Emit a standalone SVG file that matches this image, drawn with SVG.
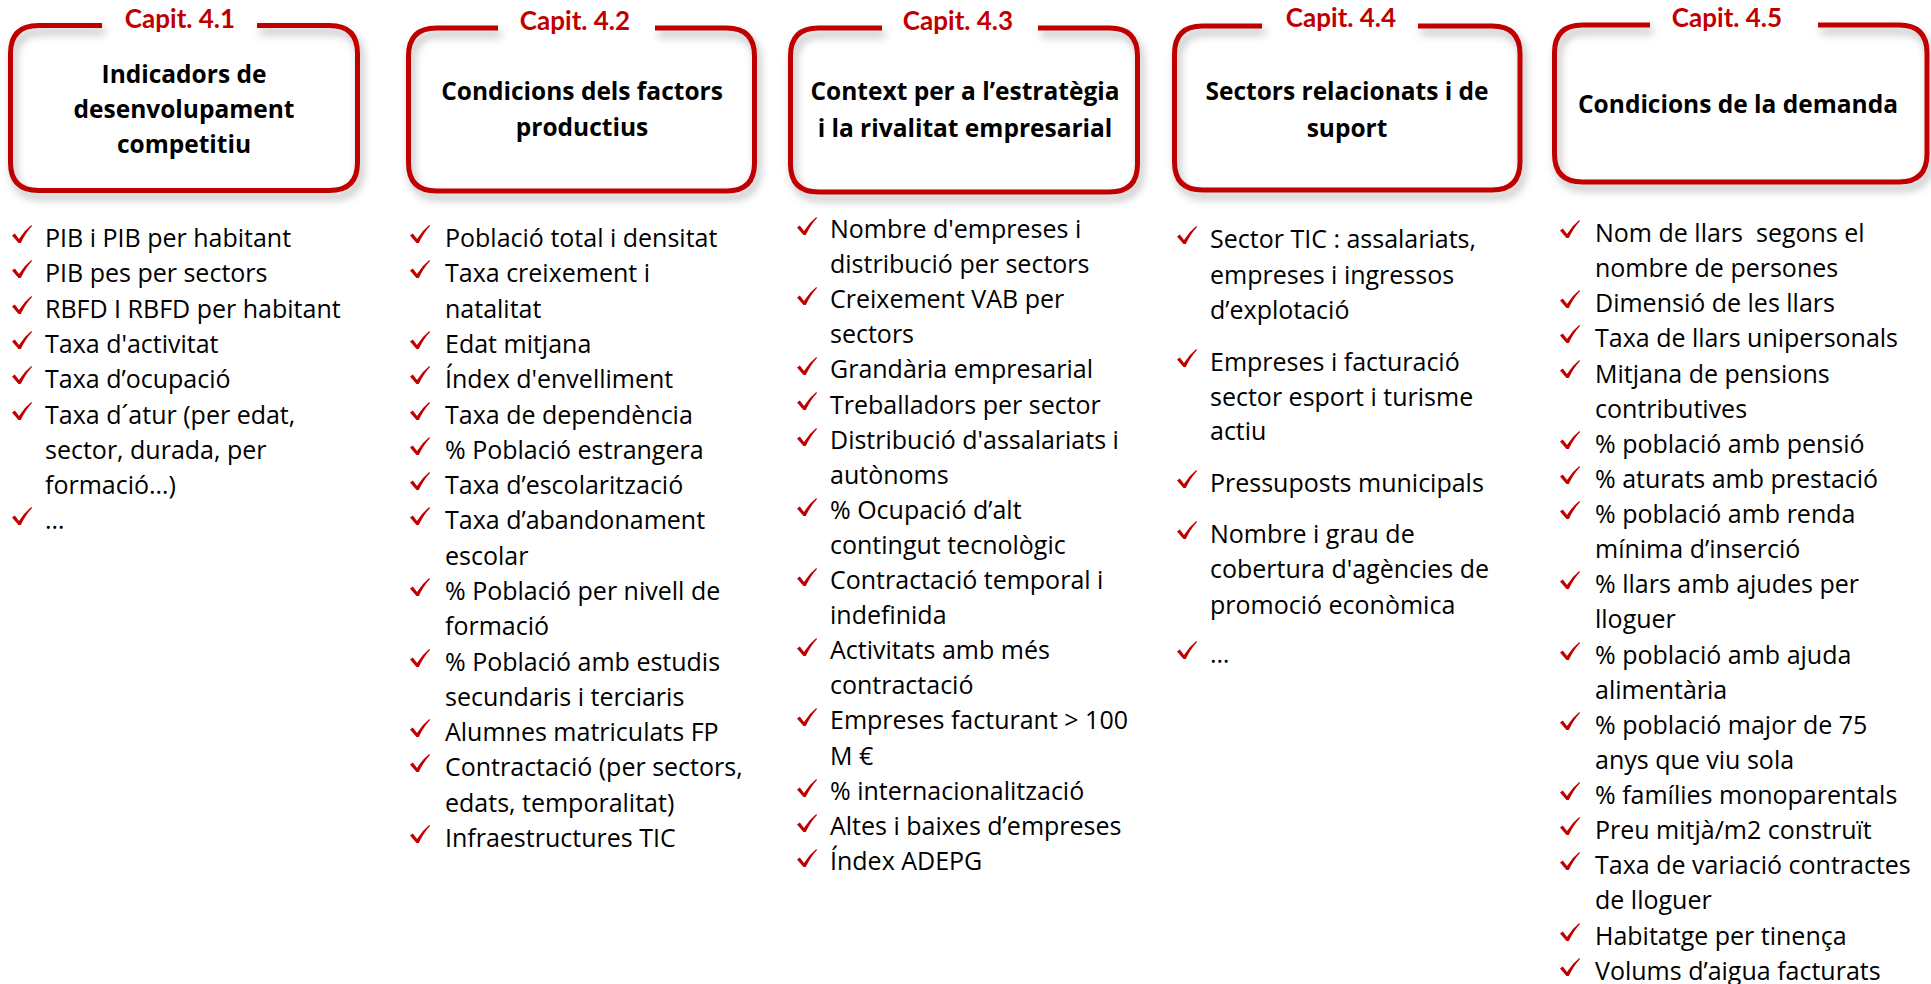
<svg xmlns="http://www.w3.org/2000/svg" xmlns:xlink="http://www.w3.org/1999/xlink" width="1931" height="984" viewBox="0 0 1931 984">
<defs>
<filter id="sh" x="-10%" y="-10%" width="130%" height="140%">
<feDropShadow dx="3" dy="6" stdDeviation="4" flood-color="#000" flood-opacity="0.3"/>
</filter>
<path id="ck" d="M0,10.5 L2.8,8.6 L7,14 Q12,5.8 19.3,0 L20,1 Q13.5,8 8.8,18 L6.5,18 Z" fill="#C00000"/>
</defs>
<style>
.box{fill:none;stroke:#C00000;stroke-width:5;stroke-linejoin:round}
.cap{font-family:Lato,"Open Sans","Liberation Sans",sans-serif;font-weight:bold;font-size:26px;fill:#C00000;text-anchor:middle}
.ttl{font-family:"Open Sans",Lato,"Liberation Sans",sans-serif;font-weight:bold;font-size:24.5px;fill:#000;text-anchor:middle}
.li{font-family:"Open Sans",Lato,"Liberation Sans",sans-serif;font-size:25px;fill:#000}
</style>
<rect width="1931" height="984" fill="#fff"/>

<g id="cap41">
<path class="box" filter="url(#sh)" d="M257,25.5 H329.5 Q357.5,25.5 357.5,53.5 V162.5 Q357.5,190.5 329.5,190.5 H38.5 Q10.5,190.5 10.5,162.5 V53.5 Q10.5,25.5 38.5,25.5 H102"/>
<text class="cap" x="180" y="28">Capit. 4.1</text>
<text class="ttl" x="184" y="83">Indicadors de<tspan x="184" dy="35">desenvolupament</tspan><tspan x="184" dy="35">competitiu</tspan></text>
<g>
<use href="#ck" x="12" y="225"/><use href="#ck" x="12" y="260"/><use href="#ck" x="12" y="296"/><use href="#ck" x="12" y="331"/><use href="#ck" x="12" y="366"/><use href="#ck" x="12" y="402"/><use href="#ck" x="12" y="507"/>
</g>
<text class="li" x="45" y="247">PIB i PIB per habitant<tspan x="45" dy="35.3">PIB pes per sectors</tspan><tspan x="45" dy="35.3">RBFD I RBFD per habitant</tspan><tspan x="45" dy="35.3">Taxa d'activitat</tspan><tspan x="45" dy="35.3">Taxa d’ocupació</tspan><tspan x="45" dy="35.3">Taxa d´atur (per edat,</tspan><tspan x="45" dy="35.3">sector, durada, per</tspan><tspan x="45" dy="35.3">formació…)</tspan><tspan x="45" dy="35.3">…</tspan></text>
</g>

<g id="cap42">
<path class="box" filter="url(#sh)" d="M655,28 H726.5 Q754.5,28 754.5,56 V163 Q754.5,191 726.5,191 H436.5 Q408.5,191 408.5,163 V56 Q408.5,28 436.5,28 H498"/>
<text class="cap" x="575" y="30">Capit. 4.2</text>
<text class="ttl" x="582" y="100">Condicions dels factors<tspan x="582" dy="36">productius</tspan></text>
<g>
<use href="#ck" x="410" y="225"/><use href="#ck" x="410" y="260"/><use href="#ck" x="410" y="331"/><use href="#ck" x="410" y="366"/><use href="#ck" x="410" y="402"/><use href="#ck" x="410" y="437"/><use href="#ck" x="410" y="472"/><use href="#ck" x="410" y="507"/><use href="#ck" x="410" y="578"/><use href="#ck" x="410" y="649"/><use href="#ck" x="410" y="719"/><use href="#ck" x="410" y="754"/><use href="#ck" x="410" y="825"/>
</g>
<text class="li" x="445" y="247">Població total i densitat<tspan x="445" dy="35.3">Taxa creixement i</tspan><tspan x="445" dy="35.3">natalitat</tspan><tspan x="445" dy="35.3">Edat mitjana</tspan><tspan x="445" dy="35.3">Índex d'envelliment</tspan><tspan x="445" dy="35.3">Taxa de dependència</tspan><tspan x="445" dy="35.3">% Població estrangera</tspan><tspan x="445" dy="35.3">Taxa d’escolarització</tspan><tspan x="445" dy="35.3">Taxa d’abandonament</tspan><tspan x="445" dy="35.3">escolar</tspan><tspan x="445" dy="35.3">% Població per nivell de</tspan><tspan x="445" dy="35.3">formació</tspan><tspan x="445" dy="35.3">% Població amb estudis</tspan><tspan x="445" dy="35.3">secundaris i terciaris</tspan><tspan x="445" dy="35.3">Alumnes matriculats FP</tspan><tspan x="445" dy="35.3">Contractació (per sectors,</tspan><tspan x="445" dy="35.3">edats, temporalitat)</tspan><tspan x="445" dy="35.3">Infraestructures TIC</tspan></text>
</g>

<g id="cap43">
<path class="box" filter="url(#sh)" d="M1038,28 H1109.5 Q1137.5,28 1137.5,56 V164 Q1137.5,192 1109.5,192 H818.5 Q790.5,192 790.5,164 V56 Q790.5,28 818.5,28 H882"/>
<text class="cap" x="958" y="30">Capit. 4.3</text>
<text class="ttl" x="965" y="100">Context per a l’estratègia<tspan x="965" dy="37">i la rivalitat empresarial</tspan></text>
<g>
<use href="#ck" x="797" y="217"/><use href="#ck" x="797" y="287"/><use href="#ck" x="797" y="357"/><use href="#ck" x="797" y="392"/><use href="#ck" x="797" y="428"/><use href="#ck" x="797" y="498"/><use href="#ck" x="797" y="568"/><use href="#ck" x="797" y="638"/><use href="#ck" x="797" y="708"/><use href="#ck" x="797" y="779"/><use href="#ck" x="797" y="814"/><use href="#ck" x="797" y="849"/>
</g>
<text class="li" x="830" y="238">Nombre d'empreses i<tspan x="830" dy="35.1">distribució per sectors</tspan><tspan x="830" dy="35.1">Creixement VAB per</tspan><tspan x="830" dy="35.1">sectors</tspan><tspan x="830" dy="35.1">Grandària empresarial</tspan><tspan x="830" dy="35.1">Treballadors per sector</tspan><tspan x="830" dy="35.1">Distribució d'assalariats i</tspan><tspan x="830" dy="35.1">autònoms</tspan><tspan x="830" dy="35.1">% Ocupació d’alt</tspan><tspan x="830" dy="35.1">contingut tecnològic</tspan><tspan x="830" dy="35.1">Contractació temporal i</tspan><tspan x="830" dy="35.1">indefinida</tspan><tspan x="830" dy="35.1">Activitats amb més</tspan><tspan x="830" dy="35.1">contractació</tspan><tspan x="830" dy="35.1">Empreses facturant &gt; 100</tspan><tspan x="830" dy="35.1">M €</tspan><tspan x="830" dy="35.1">% internacionalització</tspan><tspan x="830" dy="35.1">Altes i baixes d’empreses</tspan><tspan x="830" dy="35.1">Índex ADEPG</tspan></text>
</g>

<g id="cap44">
<path class="box" filter="url(#sh)" d="M1418,26 H1492 Q1520,26 1520,54 V162 Q1520,190 1492,190 H1202.5 Q1174.5,190 1174.5,162 V54 Q1174.5,26 1202.5,26 H1262"/>
<text class="cap" x="1341" y="27">Capit. 4.4</text>
<text class="ttl" x="1347" y="100">Sectors relacionats i de<tspan x="1347" dy="37">suport</tspan></text>
<g>
<use href="#ck" x="1177" y="226"/><use href="#ck" x="1177" y="349"/><use href="#ck" x="1177" y="470"/><use href="#ck" x="1177" y="521"/><use href="#ck" x="1177" y="641"/>
</g>
<text class="li" x="1210" y="248">Sector TIC : assalariats,<tspan x="1210" dy="36">empreses i ingressos</tspan><tspan x="1210" dy="35">d’explotació</tspan></text>
<text class="li" x="1210" y="371">Empreses i facturació<tspan x="1210" dy="35">sector esport i turisme</tspan><tspan x="1210" dy="34">actiu</tspan></text>
<text class="li" x="1210" y="492">Pressuposts municipals</text>
<text class="li" x="1210" y="543">Nombre i grau de<tspan x="1210" dy="35">cobertura d'agències de</tspan><tspan x="1210" dy="36">promoció econòmica</tspan></text>
<text class="li" x="1210" y="663">…</text>
</g>

<g id="cap45">
<path class="box" filter="url(#sh)" d="M1818,25 H1899 Q1927,25 1927,53 V154 Q1927,182 1899,182 H1582.5 Q1554.5,182 1554.5,154 V53 Q1554.5,25 1582.5,25 H1650"/>
<text class="cap" x="1727" y="27">Capit. 4.5</text>
<text class="ttl" x="1738" y="113">Condicions de la demanda</text>
<g>
<use href="#ck" x="1560" y="220"/><use href="#ck" x="1560" y="290"/><use href="#ck" x="1560" y="325"/><use href="#ck" x="1560" y="360"/><use href="#ck" x="1560" y="431"/><use href="#ck" x="1560" y="466"/><use href="#ck" x="1560" y="501"/><use href="#ck" x="1560" y="571"/><use href="#ck" x="1560" y="642"/><use href="#ck" x="1560" y="712"/><use href="#ck" x="1560" y="782"/><use href="#ck" x="1560" y="817"/><use href="#ck" x="1560" y="852"/><use href="#ck" x="1560" y="923"/><use href="#ck" x="1560" y="958"/>
</g>
<text class="li" x="1595" y="242" xml:space="preserve">Nom de llars  segons el<tspan x="1595" dy="35.13">nombre de persones</tspan><tspan x="1595" dy="35.13">Dimensió de les llars</tspan><tspan x="1595" dy="35.13">Taxa de llars unipersonals</tspan><tspan x="1595" dy="35.13">Mitjana de pensions</tspan><tspan x="1595" dy="35.13">contributives</tspan><tspan x="1595" dy="35.13">% població amb pensió</tspan><tspan x="1595" dy="35.13">% aturats amb prestació</tspan><tspan x="1595" dy="35.13">% població amb renda</tspan><tspan x="1595" dy="35.13">mínima d’inserció</tspan><tspan x="1595" dy="35.13">% llars amb ajudes per</tspan><tspan x="1595" dy="35.13">lloguer</tspan><tspan x="1595" dy="35.13">% població amb ajuda</tspan><tspan x="1595" dy="35.13">alimentària</tspan><tspan x="1595" dy="35.13">% població major de 75</tspan><tspan x="1595" dy="35.13">anys que viu sola</tspan><tspan x="1595" dy="35.13">% famílies monoparentals</tspan><tspan x="1595" dy="35.13">Preu mitjà/m2 construït</tspan><tspan x="1595" dy="35.13">Taxa de variació contractes</tspan><tspan x="1595" dy="35.13">de lloguer</tspan><tspan x="1595" dy="35.13">Habitatge per tinença</tspan><tspan x="1595" dy="35.13">Volums d’aigua facturats</tspan></text>
</g>
</svg>
